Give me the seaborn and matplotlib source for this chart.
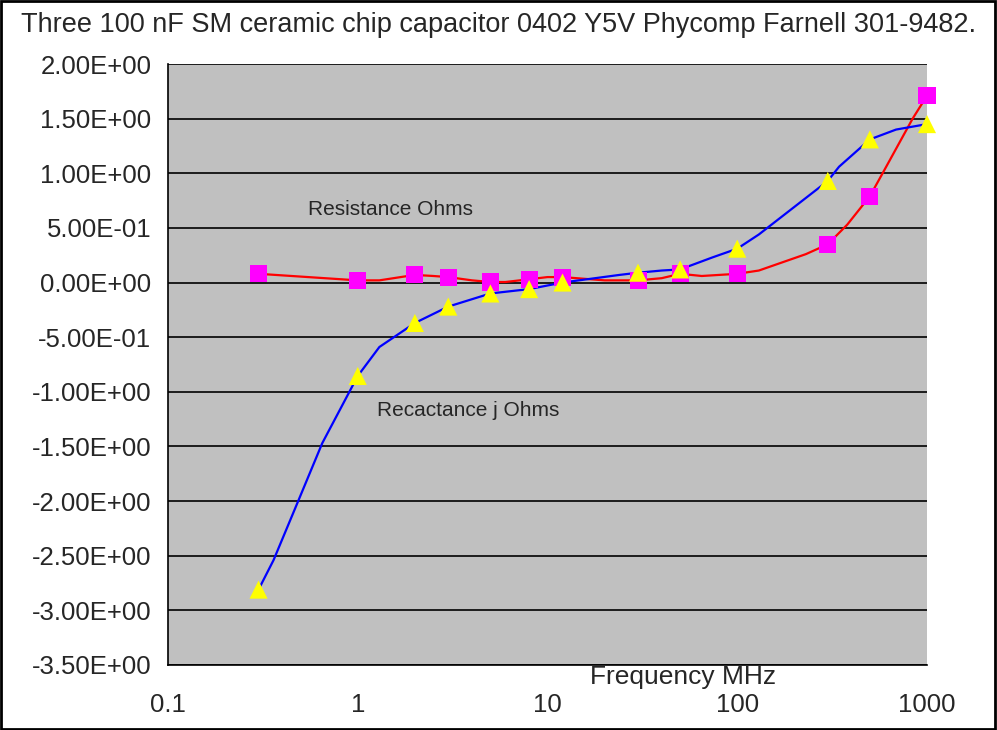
import matplotlib
matplotlib.use('Agg')
import matplotlib.pyplot as plt
import matplotlib.ticker as mticker
from matplotlib.patches import Rectangle
import seaborn as sns
import pandas as pd

# measured points (markers)
freq_mhz = [0.3, 1, 2, 3, 5, 8, 12, 30, 50, 100, 300, 500, 1000]
resistance = [0.08, 0.02, 0.07, 0.05, 0.005, 0.03, 0.05, 0.02, 0.08, 0.08, 0.35, 0.79, 1.71]
reactance = [-2.81, -0.855, -0.37, -0.22, -0.10, -0.06, 0.0, 0.09, 0.12, 0.31, 0.93, 1.31, 1.45]

# sweep traces (lines)
res_freq = [0.3, 1, 1.3, 2, 2.5, 3, 4, 5, 6, 8, 10, 12, 20, 30, 40, 50, 65, 100, 130, 230, 300, 380, 500, 575, 840, 1000]
res_trace = [0.08, 0.02, 0.02, 0.07, 0.06, 0.05, 0.02, 0.005, 0.005, 0.03, 0.05, 0.05, 0.02, 0.02, 0.04,
             0.08, 0.06, 0.08, 0.11, 0.26, 0.35, 0.53, 0.79, 0.98, 1.5, 1.71]
react_freq = [0.3, 0.36, 0.48, 0.65, 1, 1.3, 2, 3, 5, 8, 12, 24, 30, 40, 50, 74, 100, 130, 300, 344, 500, 687, 1000]
react_trace = [-2.81, -2.54, -2.02, -1.47, -0.855, -0.59, -0.37, -0.22, -0.10, -0.06, 0.0, 0.07, 0.09, 0.11,
               0.12, 0.23, 0.31, 0.44, 0.93, 1.06, 1.31, 1.40, 1.45]

y_ticks = [2.0, 1.5, 1.0, 0.5, 0.0, -0.5, -1.0, -1.5, -2.0, -2.5, -3.0, -3.5]
x_ticks = [0.1, 1, 10, 100, 1000]
x_labels = ['0.1', '1', '10', '100', '1000']

sns.set_style('white')
plt.rcParams['font.family'] = ['Liberation Sans', 'DejaVu Sans']

fig = plt.figure(figsize=(9.97, 7.30), dpi=100)
ax = fig.add_axes([168 / 997, 1 - 665 / 730, (927 - 168) / 997, (665 - 64) / 730])
ax.set_facecolor('#C0C0C0')

lines_res = pd.DataFrame({'f': res_freq, 'v': res_trace})
lines_react = pd.DataFrame({'f': react_freq, 'v': react_trace})
pts = pd.DataFrame({'f': freq_mhz, 'r': resistance, 'x': reactance})

sns.lineplot(data=lines_res, x='f', y='v', color='#FF0000', lw=1.6, ax=ax, sort=False)
sns.lineplot(data=lines_react, x='f', y='v', color='#0000FF', lw=1.6, ax=ax, sort=False)
sns.scatterplot(data=pts, x='f', y='r', marker='s', s=150, color='#FF00FF', edgecolor='none',
                ax=ax, zorder=4, clip_on=False)
sns.scatterplot(data=pts, x='f', y='x', marker='^', s=170, color='#FFFF00', edgecolor='none',
                ax=ax, zorder=5, clip_on=False)

ax.set_xscale('log')
ax.set_xlim(0.1, 1000)
ax.set_ylim(-3.5, 2.0)
ax.set_xticks(x_ticks)
ax.set_xticklabels(x_labels)
ax.xaxis.set_minor_locator(mticker.NullLocator())
ax.set_yticks(y_ticks)
ax.yaxis.set_major_formatter(mticker.FuncFormatter(
    lambda v, p: ('%.2E' % v).replace('-0.00', '0.00')))
ax.grid(axis='y', color='black', lw=1.2)
ax.set_axisbelow(True)
ax.tick_params(axis='both', which='major', direction='out', length=7, width=1, color='black',
               labelsize=18.5, pad=5)
ax.tick_params(axis='x', pad=13)
for side in ['top', 'right']:
    ax.spines[side].set_visible(False)
for side in ['left', 'bottom']:
    ax.spines[side].set_color('black')
    ax.spines[side].set_linewidth(1.2)

ax.set_xlabel('')
ax.set_ylabel('')
fig.text(683 / 997, 1 - 677 / 730, 'Frequency MHz', ha='center', va='center', fontsize=19)
ax.text(0.55, 0.67, 'Resistance Ohms', ha='left', va='center', fontsize=15)
ax.text(1.27, -1.17, 'Recactance j Ohms', ha='left', va='center', fontsize=15)

fig.text(21 / 997, 1 - 25 / 730, 'Three 100 nF SM ceramic chip capacitor 0402 Y5V Phycomp Farnell 301-9482.',
         ha='left', va='center', fontsize=19.5)
fig.patches.append(Rectangle((0.001, 0.001), 0.997, 0.997, transform=fig.transFigure,
                             fill=False, edgecolor='black', lw=2))

fig.savefig('out.png', dpi=100)
